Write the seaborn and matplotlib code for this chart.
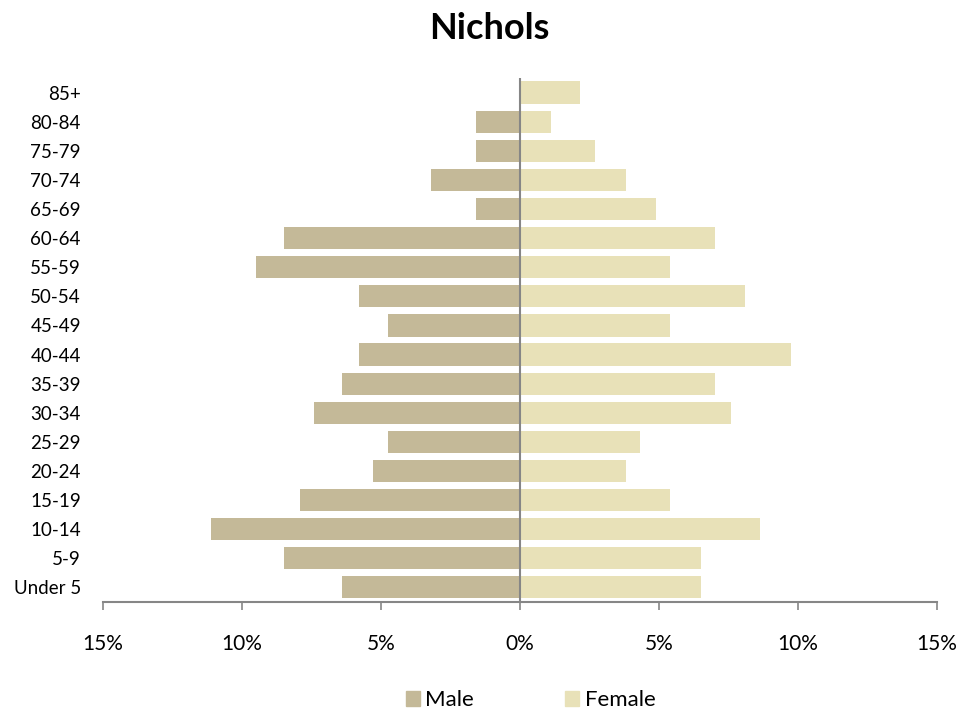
import pandas as pd
import matplotlib.pyplot as plt
import seaborn as sns
from matplotlib.patches import Patch
from matplotlib.ticker import FuncFormatter

ages = ['85+', '80-84', '75-79', '70-74', '65-69', '60-64', '55-59', '50-54', '45-49',
        '40-44', '35-39', '30-34', '25-29', '20-24', '15-19', '10-14', '5-9', 'Under 5']
male = [0.0, 1.6, 1.6, 3.2, 1.6, 8.5, 9.5, 5.8, 4.75, 5.8, 6.4, 7.4, 4.75, 5.3, 7.9, 11.1, 8.5, 6.4]
female = [2.15, 1.1, 2.7, 3.8, 4.9, 7.0, 5.4, 8.1, 5.4, 9.75, 7.0, 7.6, 4.3, 3.8, 5.4, 8.65, 6.5, 6.5]

male_color = '#C4B998'
female_color = '#E8E1B8'

sns.set_style('white')
plt.rcParams['font.family'] = ['Lato', 'DejaVu Sans']
plt.rcParams['text.color'] = 'black'
plt.rcParams['xtick.color'] = 'black'
plt.rcParams['ytick.color'] = 'black'

df = pd.DataFrame({'Age': ages, 'Male': [-m for m in male], 'Female': female})

fig = plt.figure(figsize=(9.79, 7.13), dpi=100)
ax = fig.add_axes([0.1052, 0.1557, 0.8519, 0.7349])

sns.barplot(data=df, y='Age', x='Male', order=ages, color=male_color,
            width=0.76, saturation=1, ax=ax, orient='h')
sns.barplot(data=df, y='Age', x='Female', order=ages, color=female_color,
            width=0.76, saturation=1, ax=ax, orient='h')
for p in ax.patches:
    p.set_edgecolor('none')

ax.set_xlim(-15, 15)
ax.set_ylim(17.5, -0.5)
ax.set_xticks([-15, -10, -5, 0, 5, 10, 15])
ax.xaxis.set_major_formatter(FuncFormatter(lambda v, pos: f'{abs(v):.0f}%'))
ax.set_xlabel('')
ax.set_ylabel('')

for s in ['top', 'right', 'left']:
    ax.spines[s].set_visible(False)
ax.spines['bottom'].set_color('#868686')
ax.spines['bottom'].set_linewidth(1.5)
ax.axvline(0, color='#868686', lw=1.5)

ax.tick_params(axis='x', direction='out', length=6, width=1.2, color='#868686',
               pad=17, labelsize=15, bottom=True, labelcolor='black')
ax.tick_params(axis='y', length=0, pad=16, labelsize=13.5, labelcolor='black')

fig.suptitle('Nichols', fontsize=26, fontweight='bold', y=0.983)

handles = [Patch(color=male_color, label='Male'), Patch(color=female_color, label='Female')]
fig.legend(handles=handles, loc='center', ncol=2, frameon=False, fontsize=16,
           bbox_to_anchor=(0.542, 0.018), handlelength=0.63, handleheight=0.63,
           handletextpad=0.25, columnspacing=4.1, borderaxespad=0, borderpad=0)

fig.savefig('out.png', dpi=100)
